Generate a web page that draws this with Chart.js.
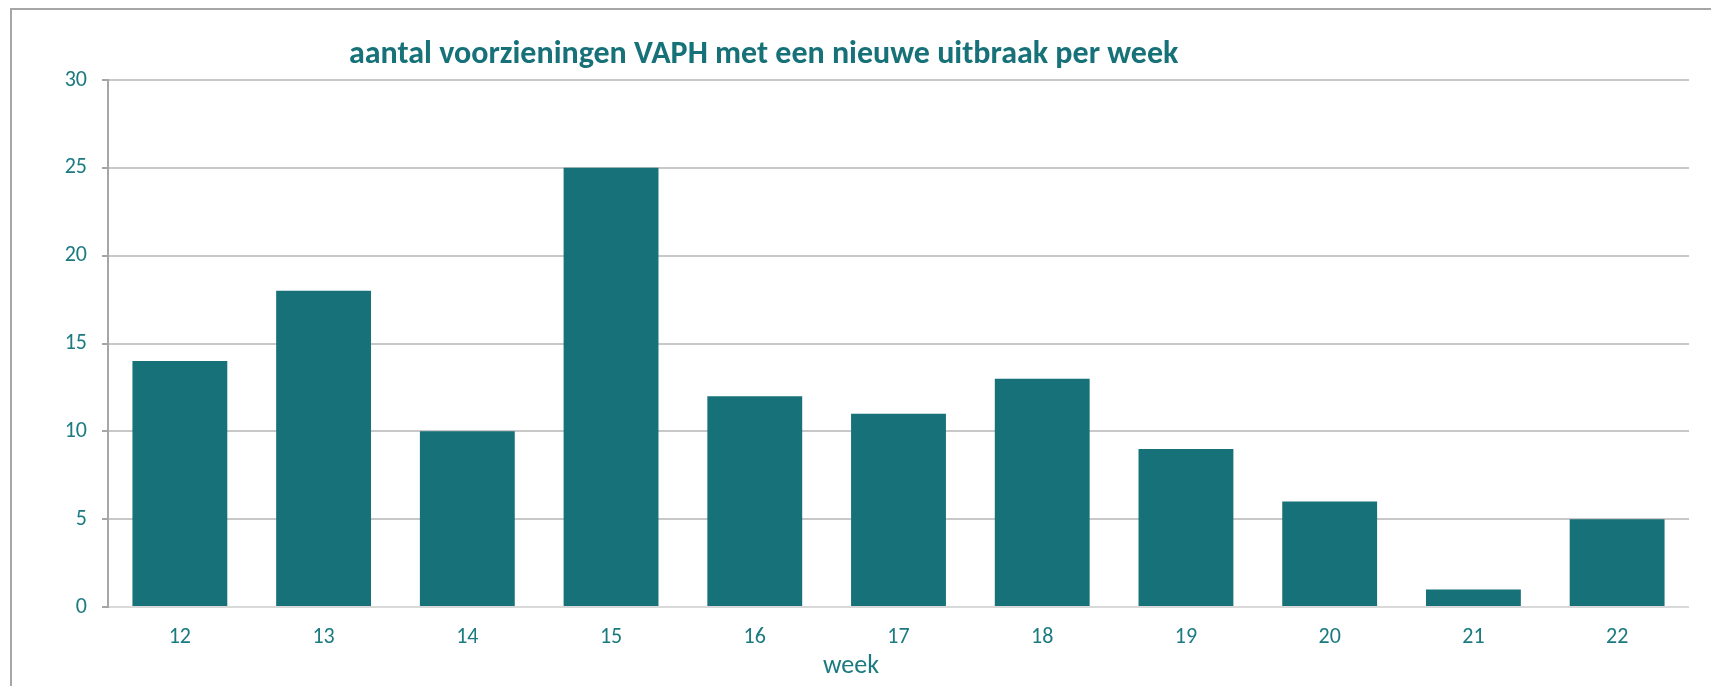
<!DOCTYPE html>
<html>
<head>
<meta charset="utf-8">
<script src="https://cdn.jsdelivr.net/npm/chart.js@4"></script>
<style>
    html, body { margin: 0; padding: 0; background: #fff; }
    #wrap { position: relative; width: 1711px; height: 686px; overflow: hidden; }
    #frame {
        position: absolute; left: 10px; top: 8px; width: 1720px; height: 700px;
        border-left: 2px solid #a6a6a6; border-top: 2px solid #a6a6a6;
    }
    #title {
        position: absolute; left: 349px; top: 33px; white-space: nowrap;
        font: bold 32px Carlito, Lato, sans-serif; color: #167178;
    }
    #xtitle {
        position: absolute; left: 851px; top: 648px; transform: translateX(-50%);
        font: 26px Carlito, Lato, sans-serif; color: #1b7a80;
    }
    canvas { position: absolute; left: 0; top: 0; }
</style>
</head>
<body>
<div id="wrap">
    <div id="frame"></div>
    <canvas id="BarChart" width="1711" height="686"></canvas>
    <div id="title">aantal voorzieningen VAPH met een nieuwe uitbraak per week</div>
    <div id="xtitle">week</div>
</div>
<script>
const labels_weeks = ['12', '13', '14', '15', '16', '17', '18', '19', '20', '21', '22'];
const values_outbreaks = [14, 18, 10, 25, 12, 11, 13, 9, 6, 1, 5];
const ticks_y = [0, 5, 10, 15, 20, 25, 30];

const textColor = '#1b7a80';

const data_Bar = {
    labels: labels_weeks,
    datasets: [{
        label: 'aantal voorzieningen',
        data: values_outbreaks,
        backgroundColor: '#167178',
        borderWidth: 0,
        categoryPercentage: 1.0,
        barPercentage: 0.66
    }]
};

const config_Bar = {
    type: 'bar',
    data: data_Bar,
    options: {
        responsive: false,
        animation: false,
        layout: {
            padding: { left: 0, top: 80, right: 22, bottom: 0 }
        },
        scales: {
            y: {
                min: ticks_y[0],
                max: ticks_y[ticks_y.length - 1],
                afterFit: (scale) => { scale.width = 108; },
                afterBuildTicks: (scale) => {
                    scale.ticks = ticks_y.map(v => ({ value: v }));
                },
                ticks: {
                    color: textColor,
                    padding: 15,
                    font: { family: 'Carlito, Lato, sans-serif', size: 22 }
                },
                grid: {
                    color: (ctx) => ctx.tick && ctx.tick.value === 0 ? '#d9d9d9' : '#c8c8c8',
                    lineWidth: 2,
                    tickLength: 6,
                    tickColor: '#a6a6a6'
                },
                border: { color: '#a6a6a6', width: 2 }
            },
            x: {
                afterFit: (scale) => { scale.height = 79; },
                ticks: {
                    color: textColor,
                    padding: 17,
                    font: { family: 'Carlito, Lato, sans-serif', size: 22 }
                },
                grid: { display: false, drawTicks: false },
                border: { display: false }
            }
        },
        plugins: {
            legend: { display: false },
            title: { display: false },
            tooltip: { enabled: false }
        }
    }
};

const myChart_Bar = new Chart(
    document.getElementById('BarChart'),
    config_Bar
);
</script>
</body>
</html>
